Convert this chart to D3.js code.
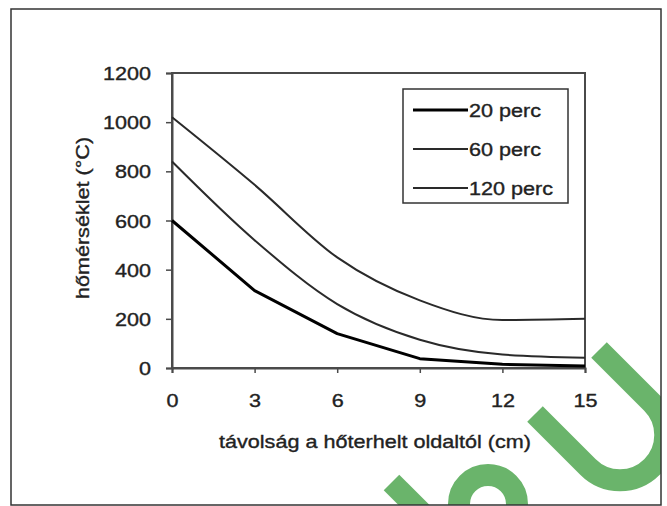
<!DOCTYPE html>
<html>
<head>
<meta charset="utf-8">
<script src="https://cdn.jsdelivr.net/npm/d3@7"></script>
<style>
  html, body { margin: 0; padding: 0; background: #fff; }
  svg { display: block; }
  text { font-family: "Liberation Sans", Arial, sans-serif; fill: #222; stroke: #222; stroke-width: 0.35px; }
</style>
</head>
<body>
<svg id="chart" width="667" height="506"></svg>
<script>
// ---- data ----
const distances = [0, 3, 6, 9, 12, 15];
const seriesNames = ["20 perc", "60 perc", "120 perc"];
const temp20 = [600, 315, 140, 38, 15, 8];
const temp60 = [840, 520, 260, 115, 55, 42];
const temp120 = [1020, 745, 450, 275, 195, 200];
const yTicks = [0, 200, 400, 600, 800, 1000, 1200];
const xTicks = [0, 3, 6, 9, 12, 15];
const yTitle = "hőmérséklet (°C)";
const xTitle = "távolság a hőterhelt oldaltól (cm)";

const series = [
  { name: seriesNames[0], values: temp20, width: 3, color: "#000", curve: d3.curveLinear },
  { name: seriesNames[1], values: temp60, width: 2, color: "#2a2a2a", curve: d3.curveMonotoneX },
  { name: seriesNames[2], values: temp120, width: 2, color: "#2a2a2a", curve: d3.curveMonotoneX }
];

const svg = d3.select("#chart");
const W = 667, H = 506;
const SX = 1.2; // horizontal text stretch
const FS = 18;

// outer frame
const frame = { x: 11, y: 9, w: 650, h: 496 };
svg.append("rect").attr("x", 0).attr("y", 0).attr("width", W).attr("height", H).attr("fill", "#fff");

const plot = { left: 172, right: 585, top: 73, bottom: 368 };
const x = d3.scaleLinear().domain([0, 15]).range([plot.left, plot.right]);
const y = d3.scaleLinear().domain([0, 1200]).range([plot.bottom, plot.top]);

// plot frame
svg.append("rect")
  .attr("x", plot.left).attr("y", plot.top)
  .attr("width", plot.right - plot.left).attr("height", plot.bottom - plot.top)
  .attr("fill", "none").attr("stroke", "#4a4a4a").attr("stroke-width", 2);

// y axis
const yAxis = svg.append("g").attr("transform", `translate(${plot.left},0)`)
  .call(d3.axisLeft(y).tickValues(yTicks).tickSize(6).tickPadding(0).tickFormat(d3.format("d")));
yAxis.select(".domain").attr("stroke", "#4a4a4a").attr("stroke-width", 2);
yAxis.selectAll(".tick line").attr("stroke", "#4a4a4a").attr("stroke-width", 1.5);
yAxis.selectAll(".tick text")
  .attr("x", null).attr("dy", null)
  .attr("transform", "translate(-21,6.5) scale(" + SX + ",1)")
  .attr("text-anchor", "end")
  .style("font-size", FS + "px").attr("fill", "#222");

// x axis
const xAxis = svg.append("g").attr("transform", `translate(0,${plot.bottom})`)
  .call(d3.axisBottom(x).tickValues(xTicks).tickSize(5).tickPadding(0).tickFormat(d3.format("d")));
xAxis.select(".domain").attr("stroke", "#4a4a4a").attr("stroke-width", 2);
xAxis.selectAll(".tick line").attr("stroke", "#4a4a4a").attr("stroke-width", 1.5);
xAxis.selectAll(".tick text")
  .attr("y", null).attr("dy", null)
  .attr("transform", "translate(0,39) scale(" + SX + ",1)")
  .attr("text-anchor", "middle")
  .style("font-size", FS + "px").attr("fill", "#222");

// lines
svg.append("g").selectAll("path").data(series.slice().reverse()).join("path")
  .attr("d", d => d3.line().x((v, i) => x(distances[i])).y(v => y(v)).curve(d.curve)(d.values))
  .attr("fill", "none")
  .attr("stroke", d => d.color)
  .attr("stroke-width", d => d.width)
  .attr("stroke-linejoin", "round");

// legend
const lg = svg.append("g");
lg.append("rect").attr("x", 403).attr("y", 89).attr("width", 165).attr("height", 114)
  .attr("fill", "#fff").attr("stroke", "#333").attr("stroke-width", 1.5);
const lgY = d3.scalePoint().domain(seriesNames).range([110, 188]);
const items = lg.selectAll("g.item").data(series).join("g").attr("class", "item")
  .attr("transform", d => `translate(0,${lgY(d.name)})`);
items.append("line").attr("x1", 413).attr("x2", 468).attr("y1", 0).attr("y2", 0)
  .attr("stroke", d => d.color).attr("stroke-width", d => d.width);
items.append("text").attr("transform", "translate(469,6.5) scale(" + SX + ",1)")
  .style("font-size", FS + "px").text(d => d.name);

// axis titles
svg.append("text")
  .attr("transform", "translate(375,448) scale(" + SX + ",1)")
  .attr("text-anchor", "middle").style("font-size", FS + "px").text(xTitle);
svg.append("text")
  .attr("transform", "translate(89,218) rotate(-90) scale(" + SX + ",1)")
  .attr("text-anchor", "middle").style("font-size", FS + "px").text(yTitle);

// watermark (green strokes), clipped to frame
svg.append("clipPath").attr("id", "fclip").append("rect")
  .attr("x", frame.x).attr("y", frame.y).attr("width", frame.w).attr("height", frame.h);
const wm = svg.append("g").attr("clip-path", "url(#fclip)")
  .attr("fill", "none").attr("stroke", "#6ab46b").attr("stroke-width", 22);
wm.append("path").attr("d", "M535,414 L588,467 A45.25,45.25 0 0 0 652,403 L599,350");
wm.append("path").attr("d", "M391.5,482.5 L440,531");
wm.append("circle").attr("cx", 488).attr("cy", 504).attr("r", 29);

// outer frame on top
svg.append("rect").attr("x", frame.x).attr("y", frame.y).attr("width", frame.w).attr("height", frame.h)
  .attr("fill", "none").attr("stroke", "#333").attr("stroke-width", 1.5);
</script>
</body>
</html>
